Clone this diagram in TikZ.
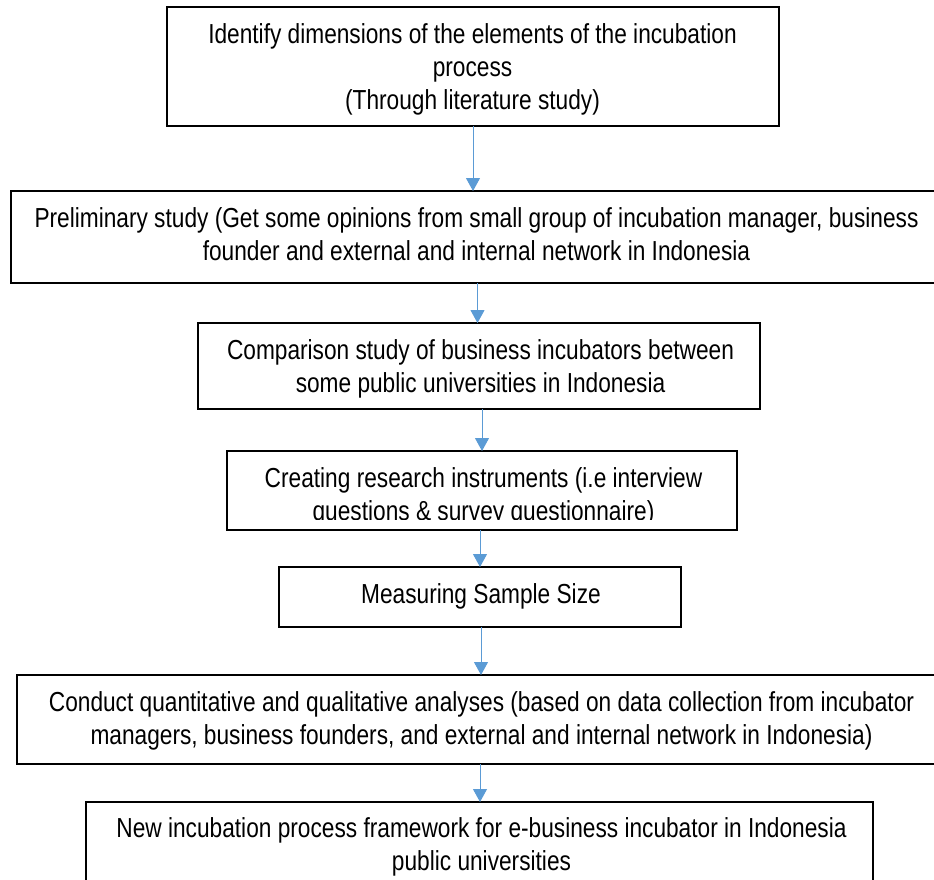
\documentclass[tikz,border=0pt]{standalone}
\usepackage{fontspec}
\setmainfont{Liberation Sans}[FakeStretch=0.825]
\usetikzlibrary{arrows.meta}
\definecolor{arrowblue}{HTML}{5B9BD5}
\newcommand\boxfont{\fontsize{27.5}{33}\selectfont}
\begin{document}
\begin{tikzpicture}[x=1pt,y=-1pt,
  box/.style={draw=black, line width=1.3pt, rectangle, inner sep=0pt, outer sep=0pt},
  txt/.style={anchor=base, inner sep=0pt, font=\boxfont},
  arr/.style={draw=arrowblue, line width=1pt, -{Triangle[width=14pt,length=13pt]}}]
\clip (0,0) rectangle (934,880);
\useasboundingbox (0,0) rectangle (934,880);

% boxes
\node[box, minimum width=612pt, minimum height=119pt] (b1) at (473,66.5) {};
\node[box, minimum width=931pt, minimum height=92pt]  (b2) at (476.5,237) {};
\node[box, minimum width=562pt, minimum height=86pt]  (b3) at (479,366) {};
\node[box, minimum width=510pt, minimum height=79pt]  (b4) at (482,490.5) {};
\node[box, minimum width=402pt, minimum height=60pt]  (b5) at (480,597) {};
\node[box, minimum width=929pt, minimum height=89pt]  (b6) at (481.5,719.5) {};
\node[box, minimum width=787pt, minimum height=89pt]  (b7) at (479.5,846.5) {};

% texts
\node[txt] (t1) at (472.5,44) {\begin{tabular}[t]{@{}c@{}}Identify dimensions of the elements of the incubation\\process\\(Through literature study)\end{tabular}};
\node[txt] (t2) at (476.5,227) {\begin{tabular}[t]{@{}c@{}}Preliminary study (Get some opinions from small group of incubation manager, business\\founder and external and internal network in Indonesia\end{tabular}};
\node[txt] (t3) at (480.5,359) {\begin{tabular}[t]{@{}c@{}}Comparison study of business incubators between\\some public universities in Indonesia\end{tabular}};
\begin{scope}
\clip (b4.north west) rectangle (737,519);
\node[txt] (t4) at (483.5,487) {\begin{tabular}[t]{@{}c@{}}Creating research instruments (i.e interview\\questions \& survey questionnaire)\end{tabular}};
\end{scope}
\node[txt] (t5) at (481,603) {Measuring Sample Size};
\node[txt] (t6) at (481.5,711) {\begin{tabular}[t]{@{}c@{}}Conduct quantitative and qualitative analyses (based on data collection from incubator\\managers, business founders, and external and internal network in Indonesia)\end{tabular}};
\node[txt] (t7) at (481.5,837) {\begin{tabular}[t]{@{}c@{}}New incubation process framework for e-business incubator in Indonesia\\public universities\end{tabular}};

% arrows
\coordinate (x1) at (473,0);
\coordinate (x2) at (477.5,0);
\coordinate (x3) at (482,0);
\coordinate (x4) at (480,0);
\coordinate (x5) at (481,0);
\coordinate (x6) at (480,0);
\draw[arr] (b1.south -| x1) -- (b2.north -| x1);
\draw[arr] (b2.south -| x2) -- (b3.north -| x2);
\draw[arr] (b3.south -| x3) -- (b4.north -| x3);
\draw[arr] (b4.south -| x4) -- (b5.north -| x4);
\draw[arr] (b5.south -| x5) -- (b6.north -| x5);
\draw[arr] (b6.south -| x6) -- (b7.north -| x6);
\end{tikzpicture}
\end{document}
